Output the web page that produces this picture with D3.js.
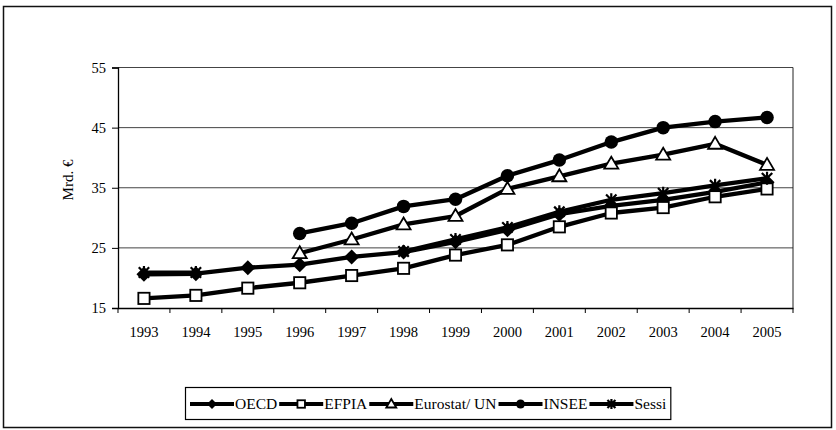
<!DOCTYPE html>
<html>
<head>
<meta charset="utf-8">
<script src="https://cdn.jsdelivr.net/npm/d3@7"></script>
<style>
  body { margin: 0; background: #fff; }
  svg { display: block; }
</style>
</head>
<body>
<div id="chart"></div>
<script>
var years = ['1993','1994','1995','1996','1997','1998','1999','2000','2001','2002','2003','2004','2005'];
var oecd     = [20.6, 20.7, 21.7, 22.2, 23.5, 24.3, 26.0, 28.0, 30.6, 32.0, 33.0, 34.3, 35.9];
var efpia    = [16.6, 17.1, 18.3, 19.2, 20.4, 21.6, 23.8, 25.5, 28.5, 30.8, 31.7, 33.5, 34.8];
var eurostat = [null, null, null, 24.1, 26.4, 28.9, 30.3, 34.8, 36.9, 39.0, 40.5, 42.3, 38.8];
var insee    = [null, null, null, 27.4, 29.1, 31.9, 33.1, 37.0, 39.6, 42.6, 45.0, 46.0, 46.7];
var sessi    = [20.9, 20.9, null, null, null, 24.4, 26.4, 28.4, 31.0, 33.0, 34.1, 35.4, 36.6];
var seriesNames = ['OECD', 'EFPIA', 'Eurostat/ UN', 'INSEE', 'Sessi'];
var yTicks = [15, 25, 35, 45, 55];

var width = 836, height = 430;
var plotLeft = 118, plotRight = 793, plotTop = 67.5, plotBottom = 308;

var svg = d3.select('#chart').append('svg')
  .attr('width', width)
  .attr('height', height);

// outer frame
svg.append('rect')
  .attr('x', 3.5).attr('y', 6.5)
  .attr('width', 828).attr('height', 421)
  .attr('fill', 'none')
  .attr('stroke', '#111')
  .attr('stroke-width', 1.5);

var x = d3.scaleBand().domain(years).range([plotLeft, plotRight]);
var y = d3.scaleLinear().domain([15, 55]).range([plotBottom, plotTop]);

// grid
svg.append('g')
  .selectAll('line').data(yTicks.slice(1))
  .enter().append('line')
    .attr('x1', plotLeft).attr('x2', plotRight)
    .attr('y1', function(d) { return y(d); })
    .attr('y2', function(d) { return y(d); })
    .attr('stroke', '#444')
    .attr('stroke-width', 1);

// plot right border
svg.append('line')
  .attr('x1', plotRight).attr('x2', plotRight)
  .attr('y1', plotTop).attr('y2', plotBottom)
  .attr('stroke', '#222').attr('stroke-width', 1);

var yAxis = svg.append('g')
  .attr('transform', 'translate(' + plotLeft + ',0)')
  .call(d3.axisLeft(y).tickValues(yTicks).tickSize(6).tickPadding(6));

var xAxis = svg.append('g')
  .attr('transform', 'translate(0,' + plotBottom + ')')
  .call(d3.axisBottom(x).tickSize(0).tickPadding(19));

xAxis.selectAll('.tick').append('line')
  .attr('x1', function() { return -x.bandwidth() / 2; })
  .attr('x2', function() { return -x.bandwidth() / 2; })
  .attr('y1', 0).attr('y2', 5)
  .attr('stroke', '#000');
xAxis.append('line')
  .attr('x1', plotRight).attr('x2', plotRight)
  .attr('y1', 0).attr('y2', 5)
  .attr('stroke', '#000');

[xAxis, yAxis].forEach(function(a) {
  a.select('.domain').attr('stroke', '#000').attr('stroke-width', 1.3);
  a.selectAll('text')
    .style('font-family', '"Liberation Serif", "Times New Roman", serif')
    .style('font-size', '14.5px')
    .attr('fill', '#000');
});

svg.append('text')
  .attr('transform', 'translate(73,180) rotate(-90)')
  .attr('text-anchor', 'middle')
  .style('font-family', '"Liberation Serif", "Times New Roman", serif')
  .style('font-size', '15px')
  .text('Mrd. €');

// markers
function marker(g, type, s) {
  if (type === 'diamond') {
    g.append('path').attr('d', 'M0,' + (-s) + 'L' + s + ',0L0,' + s + 'L' + (-s) + ',0Z')
      .attr('fill', '#000');
  } else if (type === 'square') {
    var h = s * 0.75;
    g.append('rect').attr('x', -h).attr('y', -h).attr('width', 2 * h).attr('height', 2 * h)
      .attr('fill', '#fff').attr('stroke', '#000').attr('stroke-width', 1.8);
  } else if (type === 'triangle') {
    g.append('path').attr('d', 'M0,' + (-s) + 'L' + s + ',' + (s * 0.7) + 'L' + (-s) + ',' + (s * 0.7) + 'Z')
      .attr('fill', '#fff').attr('stroke', '#000').attr('stroke-width', 1.8);
  } else if (type === 'circle') {
    g.append('circle').attr('r', s * 0.9).attr('fill', '#000');
  } else if (type === 'star') {
    var k = s * 0.8;
    g.append('path')
      .attr('d', 'M' + (-k) + ',' + (-k) + 'L' + k + ',' + k + 'M' + k + ',' + (-k) + 'L' + (-k) + ',' + k +
                 'M0,' + (-s) + 'L0,' + s)
      .attr('stroke', '#000').attr('stroke-width', 2.2).attr('fill', 'none');
  }
}

var series = [
  { name: seriesNames[0], values: oecd, type: 'diamond', size: 7.5 },
  { name: seriesNames[1], values: efpia, type: 'square', size: 7.5 },
  { name: seriesNames[2], values: eurostat, type: 'triangle', size: 7 },
  { name: seriesNames[3], values: insee, type: 'circle', size: 7.5 },
  { name: seriesNames[4], values: sessi, type: 'star', size: 6.5 }
];

var line = d3.line()
  .defined(function(d) { return d != null; })
  .x(function(d, i) { return x(years[i]) + x.bandwidth() / 2; })
  .y(function(d) { return y(d); });

series.forEach(function(s) {
  var g = svg.append('g');
  g.append('path')
    .attr('d', line(s.values))
    .attr('fill', 'none')
    .attr('stroke', '#000')
    .attr('stroke-width', 4.3)
    .attr('stroke-linejoin', 'round');
  g.selectAll('g.m').data(s.values.map(function(v, i) { return { v: v, i: i }; })
      .filter(function(d) { return d.v != null; }))
    .enter().append('g')
      .attr('class', 'm')
      .attr('transform', function(d) {
        return 'translate(' + (x(years[d.i]) + x.bandwidth() / 2) + ',' + y(d.v) + ')';
      })
      .each(function() { marker(d3.select(this), s.type, s.size); });
});

// legend
var legend = svg.append('g');
var lx = 190, ly = 404;
series.forEach(function(s) {
  var g = legend.append('g');
  g.append('line')
    .attr('x1', lx).attr('x2', lx + 44)
    .attr('y1', ly).attr('y2', ly)
    .attr('stroke', '#000').attr('stroke-width', 3.8);
  var m = g.append('g').attr('transform', 'translate(' + (lx + 22) + ',' + ly + ')');
  marker(m, s.type, 5);
  var t = g.append('text')
    .attr('x', lx + 45).attr('y', ly + 5)
    .style('font-family', '"Liberation Serif", "Times New Roman", serif')
    .style('font-size', '15.5px')
    .text(s.name);
  lx += 45 + t.node().getComputedTextLength() + 2;
});
legend.insert('rect', ':first-child')
  .attr('x', 185.5).attr('y', 387.5)
  .attr('width', lx - 185 + 2).attr('height', 32)
  .attr('fill', '#fff')
  .attr('stroke', '#000').attr('stroke-width', 1.2);
</script>
</body>
</html>
